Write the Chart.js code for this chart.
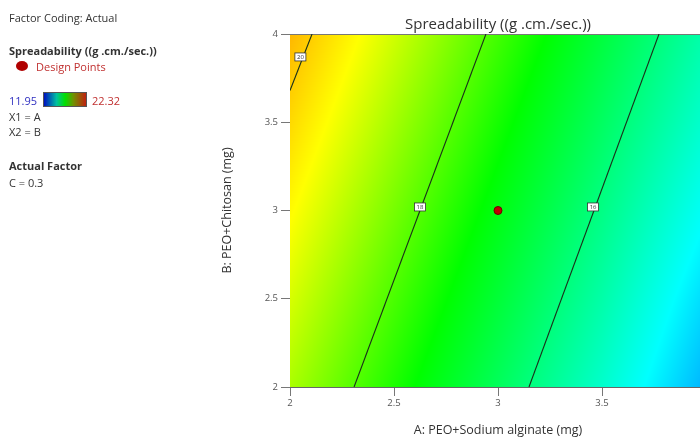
<!DOCTYPE html>
<html>
<head>
<meta charset="utf-8">
<script src="https://cdn.jsdelivr.net/npm/chart.js@4.4.1/dist/chart.umd.min.js"></script>
<style>
  html, body { margin: 0; padding: 0; background: #fff; overflow: hidden; width: 700px; height: 438px; }
  #wrap { position: relative; width: 700px; height: 438px; overflow: hidden; }
  #chart { position: absolute; left: 0; top: 0; }
  .txt { position: absolute; font-family: "Open Sans", "Noto Sans", sans-serif; font-size: 11px; color: #333; white-space: nowrap; line-height: 1; }
  .bold { font-weight: bold; }
  #title { position: absolute; left: 290px; width: 416px; top: 13px; text-align: center;
           font-family: "Open Sans", "Noto Sans", sans-serif; font-size: 15px; color: #333; }
  #dot { position: absolute; left: 16px; top: 61px; width: 12px; height: 10px; border-radius: 50%; background: #b00000; }
  #bar { position: absolute; left: 43px; top: 92px; width: 44px; height: 15px;
         background: linear-gradient(to right, #0010c0, #00c0a0 30%, #00e000 50%, #709000 70%, #c02010); border: 1px solid #555; box-sizing: border-box; }
</style>
</head>
<body>
<div id="wrap">
  <canvas id="chart" width="730" height="438"></canvas>
  <div id="title">Spreadability ((g .cm./sec.))</div>
  <div class="txt" style="left:9px;top:12px;">Factor Coding: Actual</div>
  <div class="txt bold" style="left:9px;top:45px;">Spreadability ((g .cm./sec.))</div>
  <div id="dot"></div>
  <div class="txt" style="left:36px;top:61px;color:#c03030;">Design Points</div>
  <div class="txt" style="left:9px;top:95px;color:#3030c0;">11.95</div>
  <div id="bar"></div>
  <div class="txt" style="left:92px;top:95px;color:#c03030;">22.32</div>
  <div class="txt" style="left:9px;top:111px;">X1 = A</div>
  <div class="txt" style="left:9px;top:126px;">X2 = B</div>
  <div class="txt bold" style="left:9px;top:160px;">Actual Factor</div>
  <div class="txt" style="left:9px;top:177px;">C = 0.3</div>
</div>
<script>
// axis grid for the response surface (A across, B up)
const aTicks = [2, 2.5, 3, 3.5, 4];
const bTicks = [2, 2.5, 3, 3.5, 4];

const spreadB2  = [18.74, 17.54, 16.34, 15.14, 13.80];
const spreadB25 = [19.12, 17.92, 16.72, 15.52, 14.20];
const spreadB3  = [19.50, 18.30, 17.10, 15.90, 14.65];
const spreadB35 = [19.88, 18.68, 17.48, 16.28, 15.08];
const spreadB4  = [20.26, 19.06, 17.86, 16.66, 15.46];
const spreadRows = [spreadB2, spreadB25, spreadB3, spreadB35, spreadB4];

const colorMin = 11.95;
const colorMax = 22.32;

// contour lines (endpoints)
const contourLevels = ['20', '18', '16'];
const contour20 = [{ x: 2.0, y: 3.68 }, { x: 2.106, y: 4 }];
const contour18 = [{ x: 2.308, y: 2 }, { x: 2.942, y: 4 }];
const contour16 = [{ x: 3.149, y: 2 }, { x: 3.774, y: 4 }];
const contourLabelPos = [{ x: 2.05, y: 3.87 }, { x: 2.625, y: 3.02 }, { x: 3.457, y: 3.02 }];

const designPoints = [{ x: 3, y: 3 }];

// blue -> cyan -> green -> yellow -> red, at these response values
const colorStopValues = [11.95, 14.6, 17.3, 19.45, 22.32];
const colorStops = [[0, 0, 255], [0, 255, 255], [0, 255, 0], [255, 255, 0], [255, 0, 0]];

function colorFor(v) {
  v = Math.max(colorMin, Math.min(colorMax, v));
  let i = 0;
  while (i < colorStopValues.length - 2 && v > colorStopValues[i + 1]) i++;
  const f = (v - colorStopValues[i]) / (colorStopValues[i + 1] - colorStopValues[i]);
  const c0 = colorStops[i], c1 = colorStops[i + 1];
  return [0, 1, 2].map((k) => Math.round(c0[k] + (c1[k] - c0[k]) * f));
}

function findCell(ticks, v) {
  let i = 0;
  while (i < ticks.length - 2 && v > ticks[i + 1]) i++;
  const f = (v - ticks[i]) / (ticks[i + 1] - ticks[i]);
  return [i, Math.max(0, Math.min(1, f))];
}

function surfaceAt(a, b) {
  const [i, fa] = findCell(aTicks, a);
  const [j, fb] = findCell(bTicks, b);
  const r0 = spreadRows[j], r1 = spreadRows[j + 1];
  const lo = r0[i] + (r0[i + 1] - r0[i]) * fa;
  const hi = r1[i] + (r1[i + 1] - r1[i]) * fa;
  return lo + (hi - lo) * fb;
}

const surfacePlugin = {
  id: 'surface',
  beforeDatasetsDraw(chart) {
    const { ctx, chartArea, scales } = chart;
    const left = Math.round(chartArea.left), top = Math.round(chartArea.top);
    const w = Math.round(chartArea.right) - left;
    const h = Math.round(chartArea.bottom) - top;
    const img = ctx.createImageData(w, h);
    for (let py = 0; py < h; py++) {
      const b = scales.y.getValueForPixel(top + py + 0.5);
      for (let px = 0; px < w; px++) {
        const a = scales.x.getValueForPixel(left + px + 0.5);
        const c = colorFor(surfaceAt(a, b));
        const o = (py * w + px) * 4;
        img.data[o] = c[0]; img.data[o + 1] = c[1]; img.data[o + 2] = c[2]; img.data[o + 3] = 255;
      }
    }
    ctx.putImageData(img, left, top);
    // thin frame line along the top edge
    ctx.save();
    ctx.strokeStyle = '#777';
    ctx.lineWidth = 1;
    ctx.beginPath();
    ctx.moveTo(left, top + 0.5);
    ctx.lineTo(left + w, top + 0.5);
    ctx.stroke();
    ctx.restore();
  },
};

const contourLabelPlugin = {
  id: 'contourLabels',
  afterDatasetsDraw(chart) {
    const { ctx, scales } = chart;
    ctx.save();
    ctx.font = '6px "Open Sans", sans-serif';
    ctx.textAlign = 'center';
    ctx.textBaseline = 'middle';
    contourLabelPos.forEach((p, i) => {
      const cx = scales.x.getPixelForValue(p.x);
      const cy = scales.y.getPixelForValue(p.y);
      ctx.fillStyle = '#fff';
      ctx.fillRect(cx - 5.5, cy - 4, 11, 8);
      ctx.strokeStyle = '#333';
      ctx.lineWidth = 0.8;
      ctx.strokeRect(cx - 5.5, cy - 4, 11, 8);
      ctx.fillStyle = '#333';
      ctx.fillText(contourLevels[i], cx, cy + 0.5);
    });
    ctx.restore();
  },
};

const contourStyle = { showLine: true, pointRadius: 0, borderColor: '#1a301a', borderWidth: 1.1, fill: false };
const tickFont = { family: '"Open Sans", sans-serif', size: 9.5 };
const titleFont = { family: '"Open Sans", sans-serif', size: 12.5 };
const plainTick = (v) => String(v);

new Chart(document.getElementById('chart'), {
  type: 'scatter',
  data: {
    datasets: [
      { ...contourStyle, data: contour20 },
      { ...contourStyle, data: contour18 },
      { ...contourStyle, data: contour16 },
      {
        data: designPoints,
        pointRadius: 4,
        backgroundColor: '#c00000',
        borderColor: '#700000',
        borderWidth: 1,
      },
    ],
  },
  options: {
    responsive: false,
    animation: false,
    layout: { padding: { left: 220, right: 24, top: 34, bottom: 0 } },
    plugins: { legend: { display: false }, tooltip: { enabled: false } },
    scales: {
      x: {
        type: 'linear',
        min: 2,
        max: 4,
        afterFit: (s) => { s.height = 51; },
        ticks: { stepSize: 0.5, color: '#555', font: tickFont, padding: 2, maxRotation: 0, callback: plainTick },
        grid: { drawOnChartArea: false, drawTicks: true, tickLength: 9, color: '#777' },
        border: { color: '#666', width: 1 },
        title: { display: true, text: 'A: PEO+Sodium alginate (mg)', color: '#333', font: titleFont, padding: 0 },
      },
      y: {
        type: 'linear',
        min: 2,
        max: 4,
        afterFit: (s) => { s.width = 70; },
        ticks: { stepSize: 0.5, color: '#555', font: tickFont, padding: 3, callback: plainTick },
        grid: { drawOnChartArea: false, drawTicks: true, tickLength: 9, color: '#777' },
        border: { color: '#666', width: 1 },
        title: { display: true, text: 'B: PEO+Chitosan (mg)', color: '#333', font: titleFont, padding: 0 },
      },
    },
  },
  plugins: [surfacePlugin, contourLabelPlugin],
});
</script>
</body>
</html>
